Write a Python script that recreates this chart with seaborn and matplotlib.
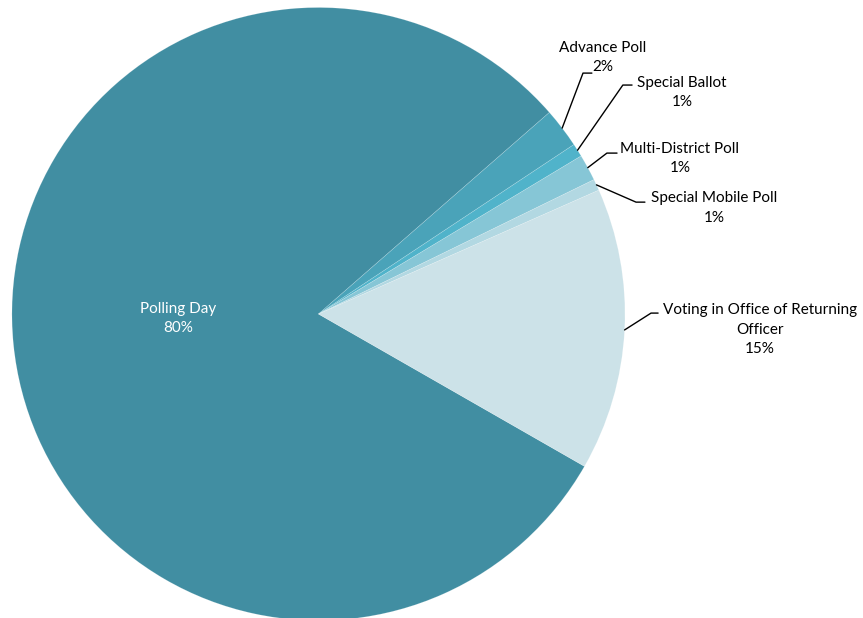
import numpy as np
import matplotlib.pyplot as plt
import seaborn as sns

# Datos del gráfico
categorias = ["Polling Day", "Advance Poll", "Special Ballot", "Multi-District Poll",
              "Special Mobile Poll", "Voting in Office of Returning\nOfficer"]
valores = [80.3, 2.1, 0.7, 1.4, 0.6, 14.9]
colores = ["#418EA2", "#4AA3B9", "#50B3CA", "#86C6D6", "#B2D8E2", "#CCE2E8"]

# Posiciones de etiquetas externas (texto, codo de la línea, fin de la línea)
pos_texto = {1: (0.928, 0.837), 2: (1.186, 0.723), 3: (1.179, 0.507),
             4: (1.290, 0.346), 5: (1.440, -0.052)}
pos_codo = {1: (0.863, 0.786), 2: (0.993, 0.747), 3: (0.941, 0.525),
            4: (1.036, 0.365), 5: (1.085, 0.003)}
pos_fin = {1: (0.892, 0.786), 2: (1.023, 0.747), 3: (0.974, 0.525),
           4: (1.065, 0.365), 5: (1.108, 0.003)}

sns.set_theme(style="white")
plt.rcParams['font.family'] = ['Lato', 'DejaVu Sans']

fig = plt.figure(figsize=(8.63, 6.18), dpi=100)
ax = fig.add_axes([0, 0, 1, 1])

wedges, _ = ax.pie(valores, colors=colores, startangle=330.2, counterclock=False,
                   wedgeprops=dict(edgecolor=(1, 1, 1, 0.2), linewidth=0.5))

for i, w in enumerate(wedges):
    ang = np.deg2rad((w.theta1 + w.theta2) / 2)
    x, y = np.cos(ang), np.sin(ang)
    etiqueta = f"{categorias[i]}\n{round(valores[i]):.0f}%"
    if i == 0:
        ax.text(0.46 * x, 0.46 * y + 0.03, etiqueta, ha="center", va="center",
                color="white", fontsize=11, linespacing=1.5)
    else:
        cx, cy = pos_codo[i]
        fx, fy = pos_fin[i]
        ax.plot([x, cx, fx], [y, cy, fy], color="black", linewidth=1)
        tx, ty = pos_texto[i]
        ax.text(tx, ty, etiqueta, ha="center", va="center", color="black",
                fontsize=11, linespacing=1.5)

ax.set_xlim(-1.039, 1.7765)
ax.set_ylim(-0.9918, 1.0245)
ax.set_aspect("auto")
ax.axis("off")

plt.savefig("out.png", dpi=100)
